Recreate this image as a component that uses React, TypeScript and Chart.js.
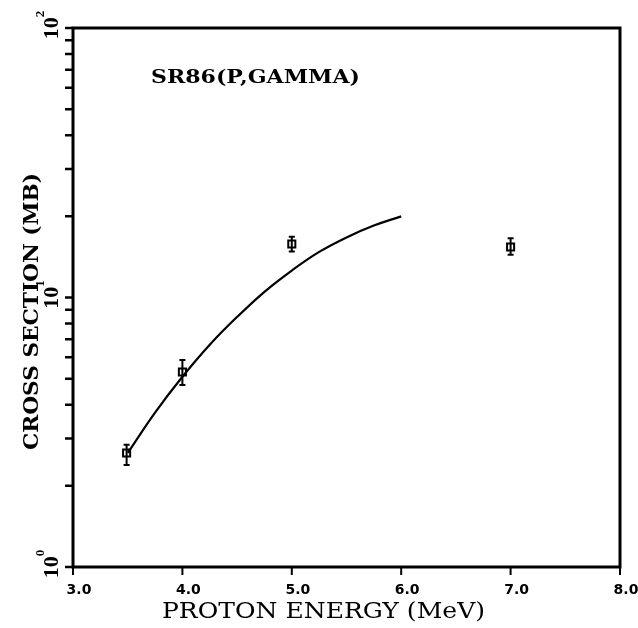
import React, { useEffect, useRef } from "react";
import { Chart, registerables } from "chart.js";

Chart.register(...registerables);

// Measured data points (proton energy in MeV, cross section in mb)
const energies = [3.49, 4.0, 5.0, 7.0];
const crossSections = [2.65, 5.29, 15.8, 15.4];
const errLow = [2.39, 4.73, 14.8, 14.4];
const errHigh = [2.84, 5.86, 16.8, 16.6];

// Theoretical curve
const fitEnergies = [3.5, 3.75, 4.0, 4.25, 4.5, 4.75, 5.0, 5.25, 5.5, 5.75, 6.0];
const fitValues = [2.65, 3.74, 5.08, 6.68, 8.47, 10.5, 12.59, 14.76, 16.71, 18.49, 20.0];

// Axis ticks and labels
const xTickValues = [3, 4, 5, 6, 7, 8];
const yTickValues = [1, 2, 3, 4, 5, 6, 7, 8, 9, 10, 20, 30, 40, 50, 60, 70, 80, 90, 100];
const yMajorValues = [1, 10, 100];
const yMajorExponents = ["0", "1", "2"];
const annotationText = "SR86(P,GAMMA)";
const xTitle = "PROTON ENERGY (MeV)";
const yTitle = "CROSS SECTION (MB)";

function fitText(ctx: CanvasRenderingContext2D, text: string, font: string, targetWidth: number) {
  ctx.font = font;
  const w = ctx.measureText(text).width;
  ctx.save();
  ctx.scale(targetWidth / w, 1);
  ctx.fillText(text, 0, 0);
  ctx.restore();
}

const decorPlugin = {
  id: "decor",
  afterDatasetsDraw(chart: any) {
    const { ctx, scales } = chart;
    const xs = scales.x;
    const ys = scales.y;
    ctx.save();
    ctx.strokeStyle = "#000";
    ctx.lineWidth = 2;
    for (let i = 0; i < energies.length; i++) {
      const px = xs.getPixelForValue(energies[i]);
      const pLo = ys.getPixelForValue(errLow[i]);
      const pHi = ys.getPixelForValue(errHigh[i]);
      ctx.beginPath();
      ctx.moveTo(px, pHi);
      ctx.lineTo(px, pLo);
      ctx.moveTo(px - 3, pHi);
      ctx.lineTo(px + 3, pHi);
      ctx.moveTo(px - 3, pLo);
      ctx.lineTo(px + 3, pLo);
      ctx.stroke();
    }
    ctx.restore();
  },
  afterDraw(chart: any) {
    const { ctx, chartArea: a, scales } = chart;
    ctx.save();
    ctx.strokeStyle = "#000";

    // tick marks placed by the library's scales
    ctx.lineWidth = 2;
    ctx.beginPath();
    for (const v of xTickValues) {
      const px = scales.x.getPixelForValue(v);
      ctx.moveTo(px, a.bottom);
      ctx.lineTo(px, a.bottom + 8);
    }
    ctx.stroke();
    ctx.lineWidth = 2.5;
    ctx.beginPath();
    for (const v of yTickValues) {
      const py = scales.y.getPixelForValue(v);
      ctx.moveTo(a.left, py);
      ctx.lineTo(a.left - 8, py);
    }
    ctx.stroke();

    ctx.lineWidth = 3;
    ctx.strokeRect(a.left, a.top, a.right - a.left, a.bottom - a.top);

    ctx.fillStyle = "#000";
    // y major tick labels, rotated, with superscript exponent
    for (let i = 0; i < yMajorValues.length; i++) {
      const py = scales.y.getPixelForValue(yMajorValues[i]);
      ctx.save();
      ctx.translate(58, py - 3);
      ctx.rotate(-Math.PI / 2);
      ctx.textBaseline = "alphabetic";
      ctx.textAlign = "left";
      const mainFont = "bold 22px 'Liberation Serif'";
      const supFont = "bold 13px 'Liberation Serif'";
      ctx.font = mainFont;
      const w1 = ctx.measureText("10").width;
      ctx.font = supFont;
      const w2 = ctx.measureText(yMajorExponents[i]).width;
      const start = -(w1 + w2) / 2;
      ctx.font = mainFont;
      ctx.fillText("10", start, 0);
      ctx.font = supFont;
      ctx.fillText(yMajorExponents[i], start + w1, -14);
      ctx.restore();
    }

    // annotation
    ctx.save();
    ctx.textBaseline = "alphabetic";
    ctx.textAlign = "left";
    ctx.translate(151, 83);
    fitText(ctx, annotationText, "bold 19px 'DejaVu Serif'", 209);
    ctx.restore();

    // x title
    ctx.save();
    ctx.textBaseline = "alphabetic";
    ctx.textAlign = "left";
    ctx.translate(162, 618);
    fitText(ctx, xTitle, "22px 'DejaVu Serif'", 323);
    ctx.restore();

    // y title
    ctx.save();
    ctx.textBaseline = "alphabetic";
    ctx.textAlign = "left";
    ctx.translate(38, 450);
    ctx.rotate(-Math.PI / 2);
    fitText(ctx, yTitle, "bold 21px 'DejaVu Serif'", 277);
    ctx.restore();

    ctx.restore();
  },
};

export default function App() {
  const ref = useRef<HTMLCanvasElement | null>(null);

  useEffect(() => {
    document.body.style.margin = "0";
    const canvas = ref.current;
    if (!canvas) return;
    const chart = new Chart(canvas, {
      type: "scatter",
      data: {
        datasets: [
          {
            type: "line",
            data: fitEnergies.map((x, i) => ({ x, y: fitValues[i] })),
            borderColor: "#000",
            borderWidth: 2.2,
            pointRadius: 0,
            tension: 0.4,
            fill: false,
          } as any,
          {
            type: "scatter",
            data: energies.map((x, i) => ({ x, y: crossSections[i] })),
            pointStyle: "rect",
            pointRadius: 5,
            borderColor: "#000",
            backgroundColor: "#fff",
            borderWidth: 2,
          },
        ],
      },
      options: {
        responsive: false,
        animation: false,
        devicePixelRatio: 1,
        layout: { padding: { top: 28, right: 18, left: 0, bottom: 0 } },
        plugins: { legend: { display: false }, tooltip: { enabled: false }, title: { display: false } },
        scales: {
          x: {
            type: "linear",
            min: 3,
            max: 8,
            afterBuildTicks: (scale: any) => {
              scale.ticks = xTickValues.map((v) => ({ value: v }));
            },
            afterFit: (scale: any) => {
              scale.height = 61;
            },
            ticks: {
              callback: (v: any) => Number(v).toFixed(1),
              font: { family: "'DejaVu Sans'", weight: "bold", size: 14 },
              color: "#000",
              padding: 4,
              labelOffset: 6,
              maxRotation: 0,
              autoSkip: false,
            },
            grid: {
              drawOnChartArea: false,
              drawTicks: true,
              tickLength: 11,
              color: "rgba(0,0,0,0)",
              lineWidth: 0,
            },
            border: { display: false },
          },
          y: {
            type: "logarithmic",
            min: 1,
            max: 100,
            afterFit: (scale: any) => {
              scale.width = 73;
            },
            ticks: {
              callback: () => "",
              autoSkip: false,
            },
            grid: {
              drawOnChartArea: false,
              drawTicks: true,
              tickLength: 8,
              color: "rgba(0,0,0,0)",
              lineWidth: 0,
            },
            border: { display: false },
          },
        },
      } as any,
      plugins: [decorPlugin],
    });
    return () => chart.destroy();
  }, []);

  return (
    <div style={{ position: "absolute", left: 0, top: 0, width: 638, height: 628, background: "#fff" }}>
      <canvas ref={ref} width={638} height={628} style={{ display: "block" }} />
    </div>
  );
}
